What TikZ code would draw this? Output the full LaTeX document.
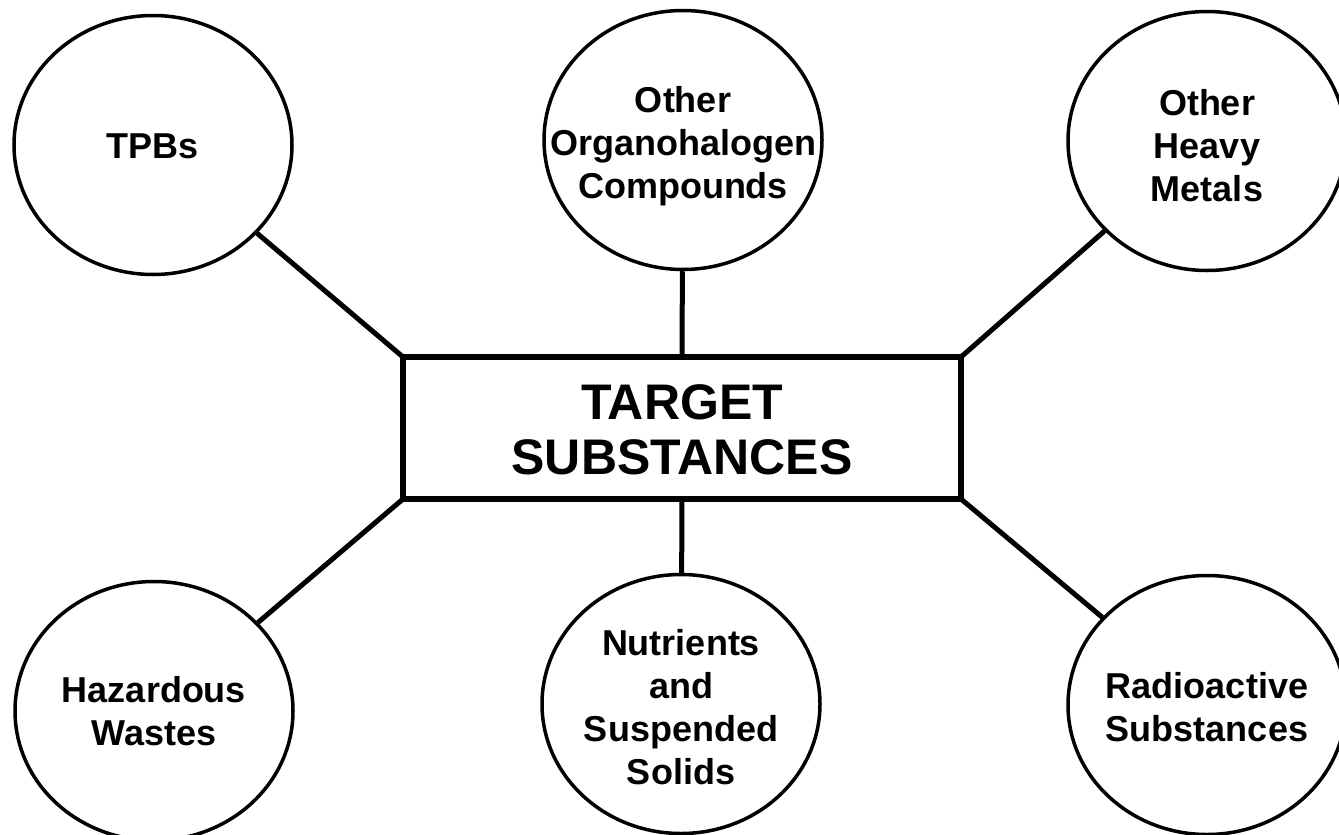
\documentclass[tikz,border=0pt]{standalone}
\usepackage{fontspec}
\setmainfont{Liberation Sans}
\usetikzlibrary{shapes.geometric}
\tikzset{
  bubble/.style={ellipse, draw, line width=3.5pt, minimum width=278pt, minimum height=259pt, inner sep=0pt},
  bubtext/.style={align=center, font=\fontsize{36}{43}\selectfont\bfseries, inner sep=0pt},
  centerbox/.style={rectangle, draw, line width=6pt, minimum width=558pt, minimum height=142pt, outer sep=0pt, inner sep=0pt},
  boxtext/.style={align=center, font=\fontsize{50}{55}\selectfont\bfseries, inner sep=0pt},
  link/.style={line width=5pt}
}
\begin{document}
\begin{tikzpicture}[x=1pt,y=-1pt]
\useasboundingbox (0,0) rectangle (1339,835);
\node[centerbox] (box) at (682,428) {};
\node[boxtext] (boxt) at (682,430) {TARGET\\SUBSTANCES};

\node[bubble] (tpb) at (153,145) {};
\node[bubtext] (tpbt) at (153,146) {TPBs};
\node[bubble] (org) at (683,140) {};
\node[bubtext] (orgt) at (683,146) {Other\\Organohalogen\\Compounds};
\node[bubble] (hm) at (1207,141) {};
\node[bubtext] (hmt) at (1207,146) {Other\\Heavy\\Metals};
\node[bubble] (haz) at (154,711) {};
\node[bubtext] (hazt) at (154,711) {Hazardous\\Wastes};
\node[bubble] (nut) at (681,704) {};
\node[bubtext] (nutt) at (681,707) {Nutrients\\and\\Suspended\\Solids};
\node[bubble] (rad) at (1207,705) {};
\node[bubtext] (radt) at (1207,707) {Radioactive\\Substances};

\draw[link] (box.north west) -- (tpb);
\draw[link] (box.north) -- (org);
\draw[link] (box.north east) -- (hm);
\draw[link] (box.south west) -- (haz);
\draw[link] (box.south) -- (nut);
\draw[link] (box.south east) -- (rad);
\end{tikzpicture}
\end{document}
